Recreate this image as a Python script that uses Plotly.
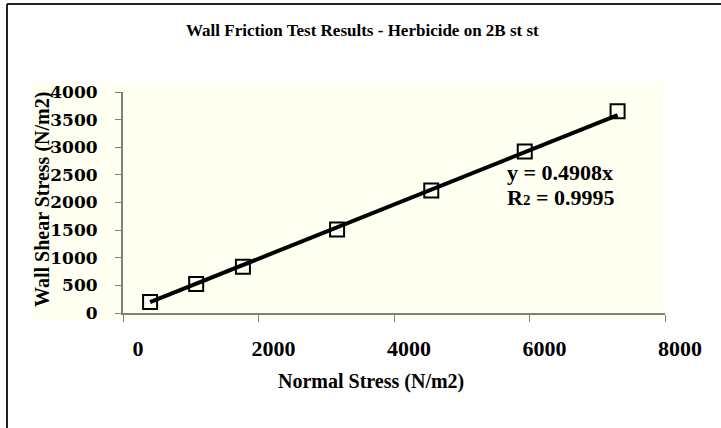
import plotly.graph_objects as go

# Data
normal_stress = [400, 1080, 1770, 3160, 4550, 5930, 7300]
shear_stress = [200, 525, 835, 1510, 2215, 2925, 3650]
slope = 0.4908
r2 = 0.9995
x_ticks = [0, 2000, 4000, 6000, 8000]
y_ticks = [0, 500, 1000, 1500, 2000, 2500, 3000, 3500, 4000]

W, H = 721, 428
L, R, T, B = 123, 56, 92, 115
pw, ph = W - L - R, H - T - B


def px(xp):
    return (xp - L) / pw


def py(yp):
    return (H - B - yp) / ph


BG = "#FFFFF2"
SERIF = "Liberation Serif, Times New Roman, serif"

trend_x = [normal_stress[0], normal_stress[-1]]
trend_y = [slope * v for v in trend_x]

fig = go.Figure()
fig.add_trace(go.Scatter(x=trend_x, y=trend_y, mode="lines",
                         line=dict(color="black", width=4),
                         hoverinfo="skip", showlegend=False))
fig.add_trace(go.Scatter(x=normal_stress, y=shear_stress, mode="markers",
                         marker=dict(symbol="square-open", size=14,
                                     color="black", line=dict(width=2, color="black")),
                         showlegend=False))

fig.update_layout(
    width=W, height=H,
    margin=dict(l=L, r=R, t=T, b=B, pad=0),
    paper_bgcolor="white",
    plot_bgcolor=BG,
    showlegend=False,
    xaxis=dict(range=[0, 8000], tickvals=x_ticks, ticktext=[str(v) for v in x_ticks],
               showgrid=False, zeroline=False, showline=True, linecolor="#808080",
               linewidth=2, ticks="outside", ticklen=7, tickcolor="#808080",
               tickwidth=1, ticklabelshift=15, ticklabelstandoff=8,
               tickfont=dict(family=SERIF, size=22, color="black", weight="bold")),
    yaxis=dict(range=[0, 4000], tickvals=y_ticks, ticktext=[str(v) for v in y_ticks],
               showgrid=False, zeroline=False, showline=True, linecolor="#808080",
               linewidth=2, ticks="outside", ticklen=6, tickcolor="#808080",
               tickwidth=1, ticklabelstandoff=14,
               tickfont=dict(family="DejaVu Serif, serif", size=17, color="black",
                             weight="bold")),
    shapes=[
        dict(type="rect", xref="paper", yref="paper", x0=px(33), x1=px(665),
             y0=py(321), y1=py(83), fillcolor=BG, line=dict(width=0), layer="below"),
        dict(type="line", xref="paper", yref="paper", x0=px(7), x1=px(7),
             y0=py(440), y1=py(4), line=dict(color="#222222", width=2)),
        dict(type="line", xref="paper", yref="paper", x0=px(7), x1=px(740),
             y0=py(4), y1=py(4), line=dict(color="#222222", width=2)),
    ],
    annotations=[
        dict(text="<b>Wall Friction Test Results - Herbicide on 2B st st</b>",
             xref="paper", yref="paper", x=px(362), y=py(30), showarrow=False,
             xanchor="center", yanchor="middle",
             font=dict(family=SERIF, size=17, color="black")),
        dict(text="<b>Wall Shear Stress (N/m2)</b>", textangle=-90,
             xref="paper", yref="paper", x=px(42), y=py(200), showarrow=False,
             xanchor="center", yanchor="middle",
             font=dict(family=SERIF, size=20, color="black")),
        dict(text="<b>Normal Stress (N/m2)</b>",
             xref="paper", yref="paper", x=px(371), y=py(381), showarrow=False,
             xanchor="center", yanchor="middle",
             font=dict(family=SERIF, size=20, color="black")),
        dict(text=f"<b>y = {slope:.4f}x</b>",
             xref="paper", yref="paper", x=px(505), y=py(172), showarrow=False,
             xanchor="left", yanchor="middle",
             font=dict(family=SERIF, size=22, color="black")),
        dict(text=f"<b>R<span style='font-size:15px'>2</span> = {r2:.4f}</b>",
             xref="paper", yref="paper", x=px(505), y=py(197), showarrow=False,
             xanchor="left", yanchor="middle",
             font=dict(family=SERIF, size=22, color="black")),
    ],
)

fig.write_html("out.html", config={"displayModeBar": False},
               post_script="document.body.style.margin='0px';")
